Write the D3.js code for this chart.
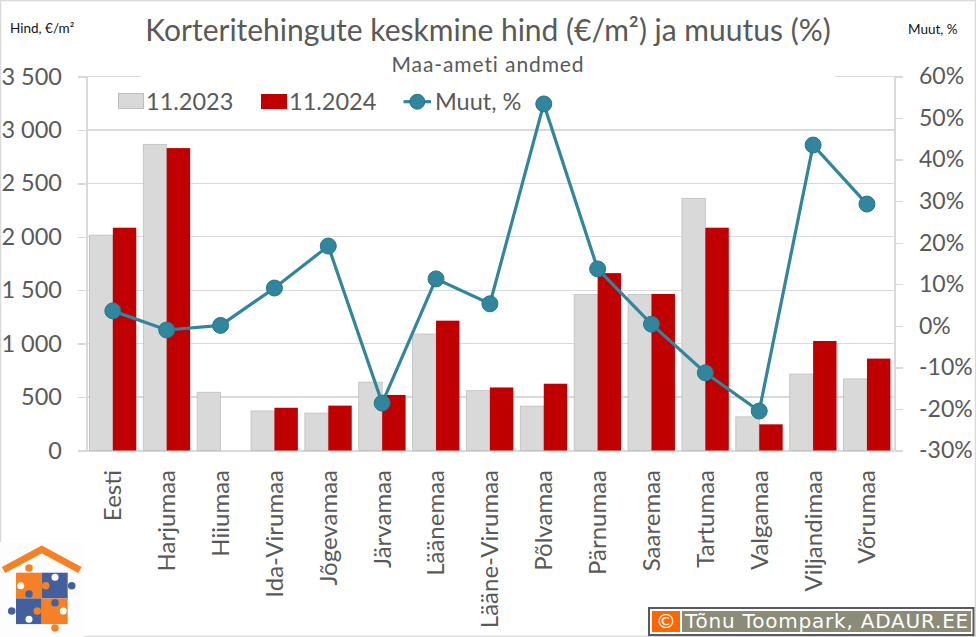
<!DOCTYPE html>
<meta charset="utf-8">
<style type="text/css">
html, body { margin: 0; padding: 0; background: #fff; }
svg { display: block; }
text { font-family: Lato, "Open Sans", sans-serif; }
.axis text { fill: #595959; font-size: 23.5px; }
.pct text { font-size: 23px; text-anchor: start; }
.cat text { font-size: 24px; }
.axis path, .axis line { stroke: #d9d9d9; stroke-width: 1.3; shape-rendering: crispEdges; }
.grid line { stroke: #d9d9d9; stroke-width: 1.3; shape-rendering: crispEdges; }
</style>
<body>
<div id="chart"></div>
<script src="https://d3js.org/d3.v7.min.js"></script>
<script type="text/javascript">
var categories = ["Eesti", "Harjumaa", "Hiiumaa", "Ida-Virumaa", "Jõgevamaa", "Järvamaa", "Läänemaa", "Lääne-Virumaa", "Põlvamaa", "Pärnumaa", "Saaremaa", "Tartumaa", "Valgamaa", "Viljandimaa", "Võrumaa"];
var price2023 = [2015, 2865, 545, 370, 350, 640, 1090, 560, 415, 1460, 1460, 2360, 315, 715, 670];
var price2024 = [2085, 2830, null, 400, 420, 520, 1215, 590, 625, 1660, 1465, 2085, 245, 1025, 860];
var change = [3.6, -1, 0.1, 9.1, 19.2, -18.6, 11.3, 5.3, 53.4, 13.7, 0.4, -11.3, -20.5, 43.5, 29.3];
var priceTicks = [0, 500, 1000, 1500, 2000, 2500, 3000, 3500];
var changeTicks = [-30, -20, -10, 0, 10, 20, 30, 40, 50, 60];
var seriesNames = ["11.2023", "11.2024", "Muut, %"];

var width = 976, height = 637;
var plotLeft = 86.5, plotRight = 894.5, plotTop = 76.5, plotBottom = 450.5;
var teal = "#31859c", red = "#c00000", grey = "#d9d9d9";

var svg = d3.select("#chart").append("svg").attr("width", width).attr("height", height);

// outer frame of the picture
svg.append("rect").attr("x", 0.5).attr("y", 0.5).attr("width", width - 1).attr("height", height - 1)
    .attr("fill", "#fff").attr("stroke", "#d9d9d9").attr("stroke-width", 1.5);

var x = d3.scaleBand().domain(categories).range([plotLeft - 0.6, plotRight - 0.6]).paddingInner(0.13).paddingOuter(0.065);
var xSub = d3.scaleBand().domain(["a", "b"]).range([0, x.bandwidth()]);
var xPoint = function(c) { return x(c) + x.bandwidth() / 2; };
var y = d3.scaleLinear().domain([0, 3500]).range([plotBottom, plotTop]);
var y2 = d3.scaleLinear().domain([-30, 60]).range([plotBottom, plotTop]);

// gridlines
svg.append("g").attr("class", "grid").selectAll("line").data(priceTicks.slice(1)).enter().append("line")
    .attr("x1", plotLeft).attr("x2", plotRight).attr("y1", function(d) { return y(d); }).attr("y2", function(d) { return y(d); });

// axes
var fmt = function(d) { return d3.format(",")(d).replace(",", " "); };
svg.append("g").attr("class", "axis").attr("transform", "translate(" + plotLeft + ",0)")
    .call(d3.axisLeft(y).tickValues(priceTicks).tickFormat(fmt).tickSize(8.5).tickSizeOuter(0).tickPadding(16));
svg.append("g").attr("class", "axis pct").attr("transform", "translate(" + plotRight + ",0)")
    .call(d3.axisRight(y2).tickValues(changeTicks).tickFormat(function(d) { return d + "%"; }).tickSize(8.5).tickSizeOuter(0).tickPadding(16));

var xAxis = svg.append("g").attr("class", "axis cat").attr("transform", "translate(0," + plotBottom + ")")
    .call(d3.axisBottom(x).tickSize(0).tickSizeOuter(0));
xAxis.selectAll("text")
    .attr("transform", "rotate(-90)")
    .attr("x", -19.5).attr("y", 0).attr("dy", "0.35em")
    .style("text-anchor", "end");

// legend sits on a white box that hides the top gridline
svg.append("rect").attr("x", 141).attr("y", 72).attr("width", 694).attr("height", 50).attr("fill", "#fff");

// bars
svg.append("g").selectAll("rect").data(categories).enter().append("rect")
    .attr("x", function(d) { return x(d); })
    .attr("width", xSub.bandwidth())
    .attr("y", function(d, i) { return y(price2023[i]); })
    .attr("height", function(d, i) { return plotBottom - y(price2023[i]); })
    .attr("fill", grey).attr("stroke", "#bfbfbf").attr("stroke-width", 0.8);
svg.append("g").selectAll("rect").data(categories.filter(function(d, i) { return price2024[i] !== null; })).enter().append("rect")
    .attr("x", function(d) { return x(d) + xSub("b"); })
    .attr("width", xSub.bandwidth())
    .attr("y", function(d) { return y(price2024[categories.indexOf(d)]); })
    .attr("height", function(d) { return plotBottom - y(price2024[categories.indexOf(d)]); })
    .attr("fill", red);

// change line
var line = d3.line()
    .x(function(d, i) { return xPoint(categories[i]); })
    .y(function(d) { return y2(d); });
svg.append("path").datum(change).attr("d", line).attr("fill", "none").attr("stroke", teal).attr("stroke-width", 3.2);
svg.append("g").selectAll("circle").data(change).enter().append("circle")
    .attr("cx", function(d, i) { return xPoint(categories[i]); })
    .attr("cy", function(d) { return y2(d); })
    .attr("r", 8)
    .attr("fill", teal).attr("stroke", "#2b7489").attr("stroke-width", 1);

// legend
var lg = svg.append("g");
lg.append("rect").attr("x", 118.5).attr("y", 93.5).attr("width", 25).attr("height", 15).attr("fill", grey).attr("stroke", "#bfbfbf");
lg.append("rect").attr("x", 261).attr("y", 94).attr("width", 26).attr("height", 15).attr("fill", red);
lg.append("line").attr("x1", 403.5).attr("x2", 431).attr("y1", 101.7).attr("y2", 101.7).attr("stroke", teal).attr("stroke-width", 3.2);
lg.append("circle").attr("cx", 417.3).attr("cy", 101.7).attr("r", 7.5).attr("fill", teal).attr("stroke", "#2b7489");
[[146, 0], [289, 1], [435, 2]].forEach(function(p) {
    lg.append("text").attr("x", p[0]).attr("y", 109.5).attr("font-size", 23.5).attr("fill", "#595959").text(seriesNames[p[1]]);
});

// titles
svg.append("text").attr("x", 488).attr("y", 41).attr("text-anchor", "middle").attr("font-size", 30).attr("fill", "#595959")
    .text("Korteritehingute keskmine hind (€/m²) ja muutus (%)");
svg.append("text").attr("x", 488).attr("y", 72).attr("text-anchor", "middle").attr("font-size", 21).attr("letter-spacing", 0.9).attr("fill", "#595959")
    .text("Maa-ameti andmed");
svg.append("text").attr("x", 10).attr("y", 33).attr("font-size", 13.5).attr("fill", "#111").text("Hind, €/m²");
svg.append("text").attr("x", 908).attr("y", 34).attr("font-size", 13.5).attr("fill", "#111").text("Muut, %");

// logo
var logo = svg.append("g");
var orange = "#f58025", blue = "#44609c";
logo.append("rect").attr("x", 0).attr("y", 542).attr("width", 84).attr("height", 95).attr("fill", "#fdfdfd");
logo.append("path").attr("d", "M3.5,570 L41.7,549.5 L80,570").attr("fill", "none").attr("stroke", orange).attr("stroke-width", 7);
logo.append("rect").attr("x", 16).attr("y", 572.7).attr("width", 25.7).attr("height", 25.7).attr("fill", orange);
logo.append("rect").attr("x", 41.7).attr("y", 572.7).attr("width", 26).attr("height", 25.7).attr("fill", blue);
logo.append("rect").attr("x", 16).attr("y", 598.4).attr("width", 25.7).attr("height", 25.7).attr("fill", blue);
logo.append("rect").attr("x", 41.7).attr("y", 598.4).attr("width", 26).attr("height", 25.7).attr("fill", orange);
[[29, 568, orange], [71.7, 585.7, blue], [11.7, 611, blue], [55, 628, orange], [29, 594, blue], [45.7, 585.7, orange], [37.3, 611, orange], [55, 602.7, blue]].forEach(function(p) {
    logo.append("circle").attr("cx", p[0]).attr("cy", p[1]).attr("r", 3.8).attr("fill", p[2]);
});
[[20.7, 585.7], [55, 577.3], [29, 619.3], [63.3, 611]].forEach(function(p) {
    logo.append("circle").attr("cx", p[0]).attr("cy", p[1]).attr("r", 3.5).attr("fill", "#fff");
});

// copyright badge
var badge = svg.append("g");
badge.append("rect").attr("x", 649).attr("y", 608).attr("width", 324.5).attr("height", 27).attr("fill", "#fff").attr("stroke", "#595959").attr("stroke-width", 2);
badge.append("rect").attr("x", 652).attr("y", 611).attr("width", 28).attr("height", 21).attr("fill", "#ff6600");
badge.append("rect").attr("x", 682).attr("y", 611).attr("width", 289).attr("height", 21).attr("fill", "#8b8b78");
badge.append("text").attr("x", 666).attr("y", 628).attr("text-anchor", "middle").style("font-family", "'DejaVu Sans'").attr("font-size", 20).attr("fill", "#fff").text("©");
badge.append("text").attr("x", 685).attr("y", 628).style("font-family", "'DejaVu Sans'").attr("font-size", 20).attr("letter-spacing", 0.8).attr("fill", "#fff").text("Tõnu Toompark, ADAUR.EE");
</script>
</body>
